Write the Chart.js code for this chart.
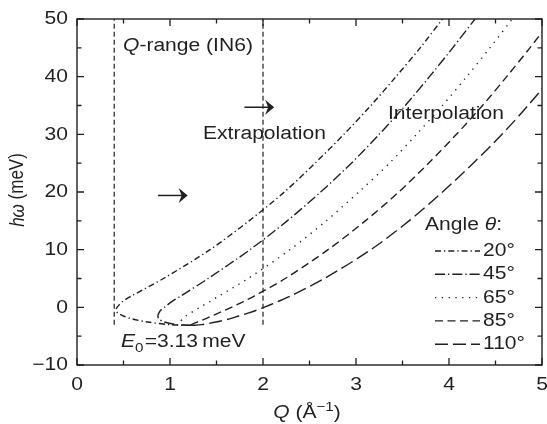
<!DOCTYPE html>
<html><head><meta charset="utf-8">
<script src="https://cdn.jsdelivr.net/npm/chart.js@4/dist/chart.umd.min.js"></script>
<style>html,body{margin:0;padding:0;background:#fff}#wrap{width:547px;height:424px}</style>
</head><body><div id="wrap"><canvas id="c" width="547" height="424"></canvas></div>
<script>
// Energy transfer values (meV) at which Q was read for each scattering angle
const energies = [-3.13, -3, -2.5, -2, -1.5, -1, -0.5, 0, 1, 2, 5, 10, 15, 20, 25, 30, 35, 40, 45, 50];
// Q (1/Å) values for each angle
const q20  = [1.23, 1.00, 0.74, 0.59, 0.50, 0.44, 0.42, 0.43, 0.49, 0.59, 0.93, 1.43, 1.85, 2.23, 2.56, 2.87, 3.16, 3.43, 3.69, 3.93];
const q45  = [1.23, 1.07, 0.93, 0.88, 0.87, 0.88, 0.90, 0.94, 1.02, 1.12, 1.41, 1.86, 2.26, 2.62, 2.95, 3.25, 3.53, 3.79, 4.04, 4.28];
const q65  = [1.23, 1.15, 1.11, 1.14, 1.17, 1.22, 1.27, 1.32, 1.43, 1.53, 1.84, 2.29, 2.68, 3.03, 3.36, 3.65, 3.93, 4.19, 4.44, 4.68];
const q85  = [1.23, 1.23, 1.30, 1.38, 1.45, 1.52, 1.59, 1.66, 1.79, 1.91, 2.24, 2.70, 3.10, 3.46, 3.78, 4.08, 4.36, 4.62, 4.87, 5.11];
const q110 = [1.23, 1.34, 1.51, 1.64, 1.74, 1.84, 1.93, 2.01, 2.16, 2.30, 2.66, 3.16, 3.57, 3.93, 4.26, 4.57, 4.85, 5.11, 5.36, 5.60];
const angleLabels = ['20°', '45°', '65°', '85°', '110°'];
// Q-range limits of IN6 (vertical lines)
const qRangeLimits = [0.4, 2.0];
const qRangeE = [-3, 50];
// Axis ticks
const xTicks = [0, 1, 2, 3, 4, 5];
const yTicks = [-10, 0, 10, 20, 30, 40, 50];

const INK = '#231f20';
const FONT = '"Liberation Sans", Arial, Helvetica, sans-serif';
const SX = 1.17; // horizontal text stretch seen in the reference
const dashes = [[6,3,1.3,3],[10,3,1.3,3],[1.3,5.5],[8,4.5],[13,5]];
const qSeries = [q20, q45, q65, q85, q110];

const datasets = qSeries.map((qs, i) => ({
  label: angleLabels[i],
  data: energies.map((e, j) => ({x: qs[j], y: e})),
  showLine: true, borderColor: INK, borderWidth: 1.4, borderDash: dashes[i],
  pointRadius: 0, tension: 0.3, fill: false
}));
qRangeLimits.forEach(q => datasets.push({
  label: 'range', data: qRangeE.map(e => ({x: q, y: e})),
  showLine: true, borderColor: INK, borderWidth: 1.2, borderDash: [5,3],
  pointRadius: 0, fill: false
}));

function font(size, style) { return (style || '') + ' ' + size + 'px ' + FONT; }
// draw a run of text parts, stretched horizontally; align: 'left' | 'center' | 'right'
function runText(ctx, parts, x, y, align, sx) {
  sx = sx || SX;
  let total = 0;
  parts.forEach(p => { ctx.font = font(p.size || 18, p.style); p.w = ctx.measureText(p.t).width; total += p.w + (p.gap || 0); });
  ctx.save();
  ctx.translate(x, y); ctx.scale(sx, 1);
  let cx = align === 'center' ? -total / 2 : align === 'right' ? -total : 0;
  ctx.textBaseline = 'middle'; ctx.textAlign = 'left';
  parts.forEach(p => {
    ctx.font = font(p.size || 18, p.style);
    ctx.fillText(p.t, cx, p.dy || 0);
    cx += p.w + (p.gap || 0);
  });
  ctx.restore();
}

const decor = {
  id: 'decor',
  afterDraw(chart) {
    const ctx = chart.ctx, a = chart.chartArea, xs = chart.scales.x, ys = chart.scales.y;
    ctx.save();
    ctx.strokeStyle = INK; ctx.fillStyle = INK; ctx.lineWidth = 1.4; ctx.setLineDash([]);
    ctx.strokeRect(a.left, a.top, a.right - a.left, a.bottom - a.top);
    // inward ticks
    ctx.lineWidth = 1.3;
    for (let v = 0; v <= 5.001; v += 0.5) {
      const px = xs.getPixelForValue(v), len = Math.abs(v - Math.round(v)) < 1e-6 ? 7 : 4.5;
      ctx.beginPath(); ctx.moveTo(px, a.bottom); ctx.lineTo(px, a.bottom - len);
      ctx.moveTo(px, a.top); ctx.lineTo(px, a.top + len); ctx.stroke();
    }
    for (let v = -10; v <= 50.001; v += 5) {
      const py = ys.getPixelForValue(v), len = (v % 10 === 0) ? 7 : 4.5;
      ctx.beginPath(); ctx.moveTo(a.left, py); ctx.lineTo(a.left + len, py);
      ctx.moveTo(a.right, py); ctx.lineTo(a.right - len, py); ctx.stroke();
    }
    // tick labels
    xTicks.forEach(v => runText(ctx, [{t: String(v)}], xs.getPixelForValue(v), 385, 'center'));
    yTicks.forEach(v => runText(ctx, [{t: String(v).replace('-', '\u2212')}], 68, ys.getPixelForValue(v) + 0.5, 'right'));
    // annotations
    runText(ctx, [{t: 'Q', style: 'italic'}, {t: '-range (IN6)'}], 123, 46, 'left');
    runText(ctx, [{t: 'Extrapolation'}], 203, 134, 'left');
    runText(ctx, [{t: 'Interpolation'}], 388, 114, 'left');
    runText(ctx, [{t: 'E', style: 'italic'}, {t: '0', size: 13, dy: 6, gap: 1}, {t: '=3.13\u2009meV'}], 121, 342, 'left');
    // arrows
    const arrow = (x1, x2, y) => {
      ctx.lineWidth = 1.5; ctx.beginPath(); ctx.moveTo(x1, y); ctx.lineTo(x2 - 2, y); ctx.stroke();
      ctx.beginPath(); ctx.moveTo(x2 - 9, y - 7.5); ctx.lineTo(x2, y); ctx.lineTo(x2 - 9, y + 7.5);
      ctx.lineTo(x2 - 6, y); ctx.closePath(); ctx.fill();
    };
    arrow(xs.getPixelForValue(1.8), xs.getPixelForValue(2.12), ys.getPixelForValue(34.7));
    arrow(xs.getPixelForValue(0.87), xs.getPixelForValue(1.19), ys.getPixelForValue(19.4));
    // legend
    runText(ctx, [{t: 'Angle '}, {t: '\u03b8', style: 'italic'}, {t: ':'}], 425, 225, 'left');
    angleLabels.forEach((lab, i) => {
      const y = 251 + i * 23.3;
      ctx.lineWidth = 1.4; ctx.setLineDash(dashes[i]);
      ctx.beginPath(); ctx.moveTo(435, y); ctx.lineTo(480, y); ctx.stroke();
      ctx.setLineDash([]);
      runText(ctx, [{t: lab}], 483, y, 'left');
    });
    // axis titles
    runText(ctx, [{t: 'Q', style: 'italic'}, {t: ' (Å'}, {t: '\u22121', size: 13, dy: -6}, {t: ')', gap: 0}], 307, 413, 'center');
    ctx.save();
    ctx.translate(18, 190); ctx.rotate(-Math.PI / 2);
    ctx.scale(1, SX);
    runText(ctx, [{t: 'h\u03c9', style: 'italic', size: 17}, {t: ' (meV)', size: 17}], 0, 0, 'center', 1);
    ctx.restore();
    ctx.restore();
  }
};

new Chart(document.getElementById('c'), {
  type: 'scatter',
  data: { datasets },
  options: {
    responsive: false, animation: false, devicePixelRatio: 1,
    layout: { padding: { left: 0, right: 5, top: 19, bottom: 0 } },
    plugins: { legend: { display: false }, tooltip: { enabled: false } },
    scales: {
      x: {
        type: 'linear', min: 0, max: 5,
        afterBuildTicks: s => { s.ticks = xTicks.map(v => ({value: v})); },
        afterFit: s => { s.height = 59; },
        grid: { display: false, drawTicks: false }, border: { display: false },
        ticks: { display: false }
      },
      y: {
        type: 'linear', min: -10, max: 50,
        afterBuildTicks: s => { s.ticks = yTicks.map(v => ({value: v})); },
        afterFit: s => { s.width = 77; },
        grid: { display: false, drawTicks: false }, border: { display: false },
        ticks: { display: false }
      }
    }
  },
  plugins: [decor]
});
</script></body></html>
